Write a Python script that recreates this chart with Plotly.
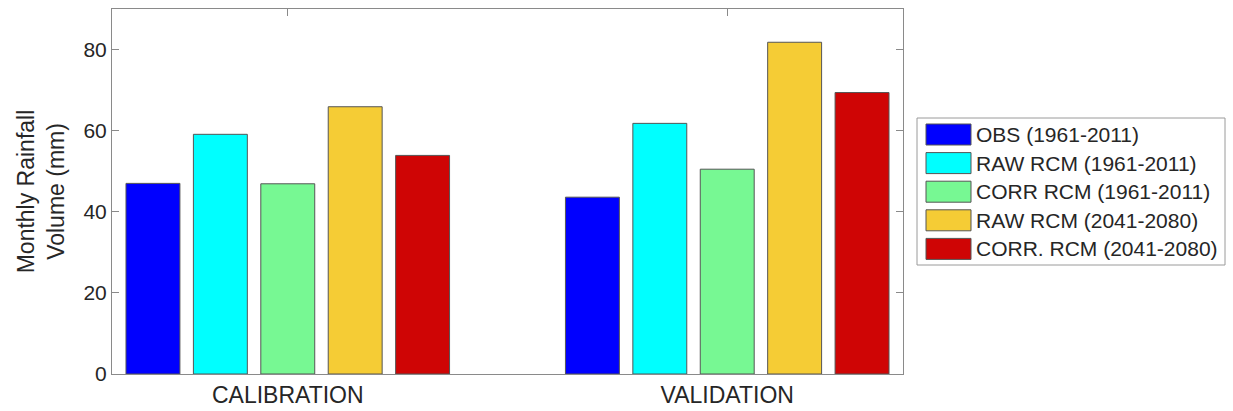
import plotly.graph_objects as go

categories = ["CALIBRATION", "VALIDATION"]
series_names = ["OBS (1961-2011)", "RAW RCM (1961-2011)", "CORR RCM (1961-2011)",
                "RAW RCM (2041-2080)", "CORR. RCM (2041-2080)"]
series_colors = ["#0000FF", "#00FFFF", "#77F893", "#F5CC35", "#CF0505"]
obs = [47.0, 43.6]
raw_hist = [59.1, 61.8]
corr_hist = [46.9, 50.5]
raw_fut = [65.9, 81.8]
corr_fut = [53.9, 69.4]
series_values = [obs, raw_hist, corr_hist, raw_fut, corr_fut]
y_ticks = [0, 20, 40, 60, 80]

W, H = 1233, 411
ml, mr, mt, mb = 112, 330, 9, 37
pw, ph = W - ml - mr, H - mt - mb

font_fam = "Arial, Liberation Sans, sans-serif"
frame = "#8a8a8a"
txt = "#262626"

fig = go.Figure()
xpos = [1, 2]
for name, col, vals in zip(series_names, series_colors, series_values):
    fig.add_trace(go.Bar(x=xpos, y=vals, name=name, marker_color=col,
                         marker_line=dict(color="#555555", width=1),
                         showlegend=False))

fig.update_layout(
    width=W, height=H,
    margin=dict(l=ml, r=mr, t=mt, b=mb, autoexpand=False),
    paper_bgcolor="white", plot_bgcolor="white",
    barmode="group", bargap=0.233, bargroupgap=0.2,
    font=dict(family=font_fam, color=txt),
)
fig.update_xaxes(range=[0.6, 2.4], tickvals=xpos, ticktext=categories,
                 showline=True, linecolor=frame, linewidth=1, mirror="ticks",
                 ticks="inside", ticklen=7, tickcolor=frame, showgrid=False,
                 zeroline=False, tickfont=dict(size=23, color=txt),
                 layer="below traces", automargin=False)
fig.update_yaxes(range=[0, 90], tickvals=y_ticks,
                 showline=True, linecolor=frame, linewidth=1, mirror="ticks",
                 ticks="inside", ticklen=7, tickcolor=frame, showgrid=False,
                 zeroline=False, tickfont=dict(size=21, color=txt),
                 automargin=False,
                 title=dict(text="Monthly Rainfall<br>Volume (mm)",
                            font=dict(size=23, color=txt), standoff=12))

# custom legend (paper coordinates derived from pixel layout)
def px_x(x):
    return (x - ml) / pw

def px_y(y):
    return 1 - (y - mt) / ph

fig.add_shape(type="rect", xref="paper", yref="paper",
              x0=px_x(917), x1=px_x(1225), y0=px_y(265), y1=px_y(118),
              line=dict(color="#9a9a9a", width=1), fillcolor="white")
row0, step = 124, 28.6
for i, (name, col) in enumerate(zip(series_names, series_colors)):
    top = row0 + i * step
    fig.add_shape(type="rect", xref="paper", yref="paper",
                  x0=px_x(926), x1=px_x(971), y0=px_y(top + 21), y1=px_y(top),
                  line=dict(color="#555555", width=1), fillcolor=col)
    fig.add_annotation(xref="paper", yref="paper", x=px_x(974), y=px_y(top + 10.5),
                       text=name, showarrow=False, xanchor="left", yanchor="middle",
                       font=dict(size=21, color=txt, family=font_fam))

fig.write_html("out.html", config={"displayModeBar": False})

# remove default page margin so the figure aligns with the window
with open("out.html", "r", encoding="utf-8") as f:
    html = f.read()
html = html.replace("<body>", '<body style="margin:0;padding:0;overflow:hidden">', 1)
with open("out.html", "w", encoding="utf-8") as f:
    f.write(html)
